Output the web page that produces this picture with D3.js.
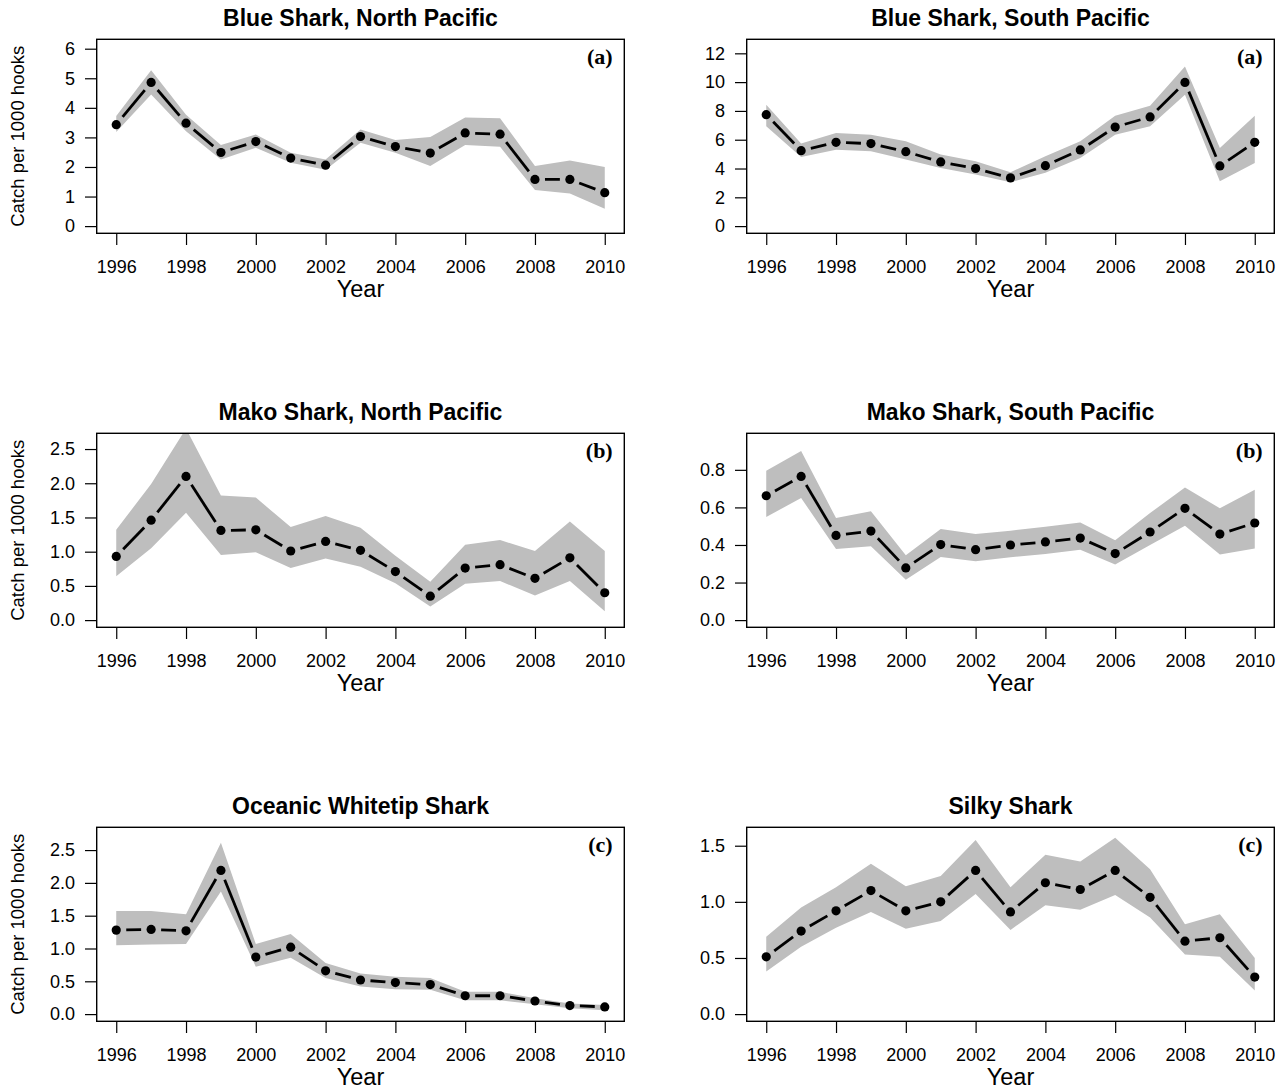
<!DOCTYPE html>
<html>
<head>
<meta charset="utf-8">
<script src="https://cdn.jsdelivr.net/npm/d3@7"></script>
<style>
  html, body { margin: 0; padding: 0; background: #fff; }
  svg { display: block; }
  text { font-family: "Liberation Sans", Arial, sans-serif; fill: #000; }
</style>
</head>
<body>
<svg id="chart" width="1288" height="1089"></svg>
<script>
// Catch per 1000 hooks by year, with confidence bands, for six shark series.
const years = [1996, 1997, 1998, 1999, 2000, 2001, 2002, 2003, 2004, 2005, 2006, 2007, 2008, 2009, 2010];
const yearTicks = [1996, 1998, 2000, 2002, 2004, 2006, 2008, 2010];

const titles = [
  "Blue Shark, North Pacific", "Blue Shark, South Pacific",
  "Mako Shark, North Pacific", "Mako Shark, South Pacific",
  "Oceanic Whitetip Shark", "Silky Shark"
];
const tags = ["(a)", "(a)", "(b)", "(b)", "(c)", "(c)"];

const blueNorth      = [3.43, 4.86, 3.48, 2.49, 2.86, 2.30, 2.06, 3.03, 2.69, 2.47, 3.15, 3.11, 1.58, 1.58, 1.13];
const blueNorthLow   = [3.18, 4.45, 3.21, 2.25, 2.65, 2.14, 1.91, 2.82, 2.48, 2.03, 2.74, 2.68, 1.22, 1.10, 0.59];
const blueNorthHigh  = [3.72, 5.27, 3.77, 2.74, 3.10, 2.48, 2.25, 3.27, 2.91, 3.01, 3.67, 3.65, 2.03, 2.22, 2.00];

const blueSouth      = [7.74, 5.24, 5.82, 5.73, 5.17, 4.46, 4.00, 3.35, 4.20, 5.29, 6.88, 7.58, 9.98, 4.18, 5.82];
const blueSouthLow   = [6.93, 4.80, 5.31, 5.20, 4.62, 4.04, 3.58, 3.05, 3.70, 4.73, 6.35, 6.93, 9.12, 3.12, 4.39];
const blueSouthHigh  = [8.43, 5.73, 6.47, 6.35, 5.89, 4.97, 4.50, 3.74, 4.85, 5.89, 7.67, 8.36, 11.09, 5.43, 7.67];

const makoNorth      = [0.93, 1.46, 2.10, 1.31, 1.32, 1.01, 1.15, 1.02, 0.71, 0.35, 0.76, 0.81, 0.61, 0.91, 0.40];
const makoNorthLow   = [0.64, 1.05, 1.57, 0.95, 0.99, 0.76, 0.90, 0.78, 0.54, 0.20, 0.53, 0.57, 0.36, 0.57, 0.13];
const makoNorthHigh  = [1.32, 1.99, 2.80, 1.82, 1.79, 1.36, 1.52, 1.35, 0.94, 0.56, 1.10, 1.17, 1.01, 1.44, 1.01];

const makoSouth      = [0.662, 0.765, 0.451, 0.474, 0.278, 0.402, 0.375, 0.400, 0.416, 0.437, 0.354, 0.469, 0.595, 0.458, 0.517];
const makoSouthLow   = [0.549, 0.650, 0.379, 0.393, 0.215, 0.336, 0.313, 0.335, 0.352, 0.375, 0.296, 0.400, 0.503, 0.349, 0.381];
const makoSouthHigh  = [0.795, 0.900, 0.543, 0.579, 0.345, 0.485, 0.458, 0.476, 0.497, 0.520, 0.425, 0.570, 0.706, 0.596, 0.694];

const whitetip       = [1.28, 1.29, 1.27, 2.19, 0.87, 1.02, 0.66, 0.52, 0.48, 0.45, 0.28, 0.28, 0.20, 0.13, 0.11];
const whitetipLow    = [1.05, 1.06, 1.07, 1.87, 0.72, 0.86, 0.55, 0.42, 0.38, 0.37, 0.21, 0.21, 0.15, 0.09, 0.06];
const whitetipHigh   = [1.57, 1.57, 1.52, 2.61, 1.07, 1.22, 0.78, 0.62, 0.57, 0.55, 0.34, 0.34, 0.24, 0.16, 0.14];

const silky          = [0.51, 0.74, 0.92, 1.10, 0.92, 1.00, 1.28, 0.91, 1.17, 1.11, 1.28, 1.04, 0.65, 0.68, 0.33];
const silkyLow       = [0.38, 0.60, 0.77, 0.91, 0.76, 0.83, 1.07, 0.75, 0.97, 0.93, 1.06, 0.86, 0.53, 0.51, 0.21];
const silkyHigh      = [0.69, 0.95, 1.13, 1.34, 1.14, 1.23, 1.55, 1.13, 1.42, 1.36, 1.57, 1.29, 0.80, 0.89, 0.50];

const estimates = [blueNorth, blueSouth, makoNorth, makoSouth, whitetip, silky];
const lowers    = [blueNorthLow, blueSouthLow, makoNorthLow, makoSouthLow, whitetipLow, silkyLow];
const uppers    = [blueNorthHigh, blueSouthHigh, makoNorthHigh, makoSouthHigh, whitetipHigh, silkyHigh];

const yTickSets = [
  [0, 1, 2, 3, 4, 5, 6],
  [0, 2, 4, 6, 8, 10, 12],
  [0, 0.5, 1.0, 1.5, 2.0, 2.5],
  [0, 0.2, 0.4, 0.6, 0.8],
  [0, 0.5, 1.0, 1.5, 2.0, 2.5],
  [0, 0.5, 1.0, 1.5]
];
const yTickFormats = [d3.format("d"), d3.format("d"), d3.format(".1f"), d3.format(".1f"), d3.format(".1f"), d3.format(".1f")];
const yLabel = "Catch per 1000 hooks";
const xLabel = "Year";

// ---- layout ----
const colX = [96.7, 746.7];
const rowY = [39.3, 433.3, 827.3];
const boxW = 527.6, boxH = 194;
const tickLen = 11.7;
const pointR = 4.6;
const segGap = 10;

const svg = d3.select("#chart");
const defs = svg.append("defs");

// R-style axis range: 4% padding beyond the limits
const pad = (lo, hi) => [lo - 0.04 * (hi - lo), hi + 0.04 * (hi - lo)];

const x = d3.scaleLinear().domain(pad(d3.min(years), d3.max(years))).range([0, boxW]);

estimates.forEach((est, i) => {
  const col = i % 2, row = Math.floor(i / 2);
  const g = svg.append("g").attr("transform", `translate(${colX[col]},${rowY[row]})`);

  const yMax = 1.25 * d3.max(est);
  const y = d3.scaleLinear().domain(pad(0, yMax)).range([boxH, 0]);

  const clipId = "clip" + i;
  defs.append("clipPath").attr("id", clipId)
    .append("rect").attr("x", 0).attr("y", 0).attr("width", boxW).attr("height", boxH);

  const plot = g.append("g").attr("clip-path", `url(#${clipId})`);

  const rows = years.map((yr, k) => ({ yr, v: est[k], lo: lowers[i][k], hi: uppers[i][k] }));

  // confidence band
  plot.append("path")
    .datum(rows)
    .attr("fill", "#bebebe")
    .attr("stroke", "none")
    .attr("d", d3.area().x(d => x(d.yr)).y0(d => y(d.lo)).y1(d => y(d.hi)));

  // connecting segments with gaps around the points
  const segs = d3.pairs(rows).map(([a, b]) => {
    const x1 = x(a.yr), y1 = y(a.v), x2 = x(b.yr), y2 = y(b.v);
    const len = Math.hypot(x2 - x1, y2 - y1);
    const ux = (x2 - x1) / len, uy = (y2 - y1) / len;
    return { x1: x1 + ux * segGap, y1: y1 + uy * segGap, x2: x2 - ux * segGap, y2: y2 - uy * segGap, ok: len > 2 * segGap };
  }).filter(s => s.ok);

  plot.selectAll("line.seg").data(segs).join("line")
    .attr("class", "seg")
    .attr("x1", d => d.x1).attr("y1", d => d.y1)
    .attr("x2", d => d.x2).attr("y2", d => d.y2)
    .attr("stroke", "#000").attr("stroke-width", 2.8).attr("stroke-linecap", "butt");

  plot.selectAll("circle").data(rows).join("circle")
    .attr("cx", d => x(d.yr)).attr("cy", d => y(d.v)).attr("r", pointR).attr("fill", "#000");

  // axes
  const yAxis = g.append("g")
    .call(d3.axisLeft(y).tickValues(yTickSets[i]).tickFormat(yTickFormats[i]).tickSize(tickLen).tickPadding(10));
  yAxis.select(".domain").remove();
  yAxis.selectAll("line").attr("stroke", "#000").attr("stroke-width", 1.2);
  yAxis.selectAll("text").style("font-size", "18px").style("font-family", "'Liberation Sans', Arial, sans-serif").attr("fill", "#000");

  const xAxis = g.append("g").attr("transform", `translate(0,${boxH})`)
    .call(d3.axisBottom(x).tickValues(yearTicks).tickFormat(d3.format("d")).tickSize(tickLen).tickPadding(15));
  xAxis.select(".domain").remove();
  xAxis.selectAll("line").attr("stroke", "#000").attr("stroke-width", 1.2);
  xAxis.selectAll("text").style("font-size", "18px").style("font-family", "'Liberation Sans', Arial, sans-serif").attr("fill", "#000");

  // frame
  g.append("rect").attr("x", 0).attr("y", 0).attr("width", boxW).attr("height", boxH)
    .attr("fill", "none").attr("stroke", "#000").attr("stroke-width", 1.4);

  // title
  g.append("text").attr("x", boxW / 2).attr("y", -21)
    .attr("text-anchor", "middle").attr("dominant-baseline", "central")
    .style("font-size", "23px").style("font-weight", "bold")
    .text(titles[i]);

  // panel tag
  g.append("text").attr("x", boxW - 11.6).attr("y", 17.5)
    .attr("text-anchor", "end").attr("dominant-baseline", "central")
    .style("font-family", "'Liberation Serif', 'Times New Roman', serif")
    .style("font-size", "22px").style("font-weight", "bold")
    .text(tags[i]);

  // x label
  g.append("text").attr("x", boxW / 2).attr("y", boxH + 56)
    .attr("text-anchor", "middle").attr("dominant-baseline", "central")
    .style("font-size", "23.5px")
    .text(xLabel);

  // y label on the left column
  if (col === 0) {
    g.append("text")
      .attr("transform", `translate(${17.5 - colX[col]},${boxH / 2}) rotate(-90)`)
      .attr("text-anchor", "middle").attr("dominant-baseline", "central")
      .style("font-size", "18.5px")
      .text(yLabel);
  }
});
</script>
</body>
</html>
